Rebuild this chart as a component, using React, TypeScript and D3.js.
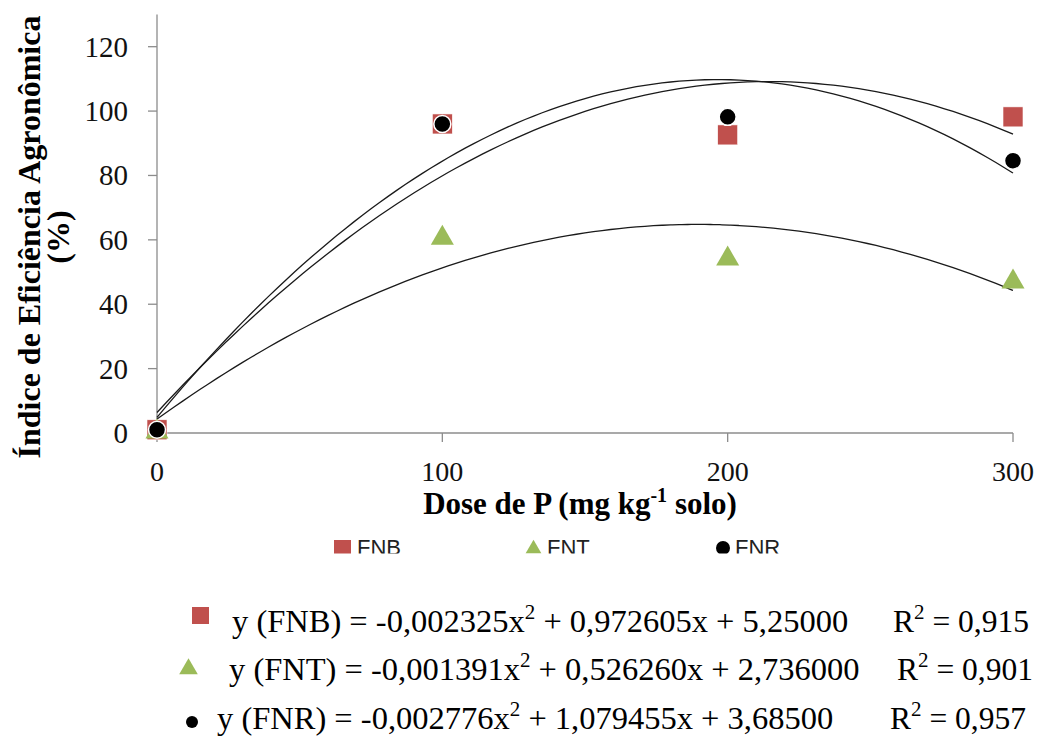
import React from "react";
import * as d3 from "d3";

// DATA
const doses = [0, 100, 200, 300];
const fnb = [1, 96, 92.6, 98.2];
const fnt = [1, 61.2, 54.7, 47.6];
const fnr = [1, 96, 98.2, 84.6];
const yTicks = [0, 20, 40, 60, 80, 100, 120];
const xTicks = [0, 100, 200, 300];

const equations = [
  { name: "FNB", a: "-0,002325x", b: " + 0,972605x +  5,25000", r2: "0,915" },
  { name: "FNT", a: "-0,001391x", b: " + 0,526260x + 2,736000", r2: "0,901" },
  { name: "FNR", a: "-0,002776x", b: " + 1,079455x + 3,68500", r2: "0,957" },
];

const RED = "#C0504D";
const GREEN = "#9BBB59";
const AXIS = "#8C8C8C";
const SERIF = "'Liberation Serif', 'Times New Roman', serif";

// least squares quadratic (Excel style polynomial trendline)
function fitQuad(xs: number[], ys: number[]) {
  const n = xs.length;
  let s1 = 0, s2 = 0, s3 = 0, s4 = 0, sy = 0, sxy = 0, sx2y = 0;
  xs.forEach((x, i) => {
    const y = ys[i];
    s1 += x; s2 += x * x; s3 += x ** 3; s4 += x ** 4;
    sy += y; sxy += x * y; sx2y += x * x * y;
  });
  const M = [
    [n, s1, s2, sy],
    [s1, s2, s3, sxy],
    [s2, s3, s4, sx2y],
  ];
  for (let i = 0; i < 3; i++) {
    for (let k = i + 1; k < 3; k++) {
      const f = M[k][i] / M[i][i];
      for (let j = i; j < 4; j++) M[k][j] -= f * M[i][j];
    }
  }
  const c = [0, 0, 0];
  for (let i = 2; i >= 0; i--) {
    let s = M[i][3];
    for (let j = i + 1; j < 3; j++) s -= M[i][j] * c[j];
    c[i] = s / M[i][i];
  }
  return (x: number) => c[0] + c[1] * x + c[2] * x * x;
}

export default function App() {
  const x = d3.scaleLinear().domain([0, 300]).range([157, 1013]);
  const y = d3.scaleLinear().domain([0, 130]).range([433, 14.5]);

  const samples = d3.range(0, 301, 3);
  const line = d3
    .line<number>()
    .x((d) => x(d))
    .curve(d3.curveMonotoneX);

  const trend = (vals: number[]) => {
    const f = fitQuad(doses, vals);
    return line.y((d) => y(f(d)))(samples) as string;
  };

  const tri = d3.symbol().type(d3.symbolTriangle);

  return (
    <svg width={1039} height={747} style={{ position: "fixed", left: 0, top: 0 }}>
      <rect width={1039} height={747} fill="#fff" />
      <defs>
        <clipPath id="legclip">
          <rect x={0} y={520} width={1039} height={33.5} />
        </clipPath>
      </defs>

      {/* axes */}
      <line x1={x(0)} x2={x(0)} y1={y(130)} y2={y(0)} stroke={AXIS} strokeWidth={1.3} />
      <line x1={x(0)} x2={x(300)} y1={y(0)} y2={y(0)} stroke={AXIS} strokeWidth={1.3} />
      {yTicks.map((t) => (
        <g key={"y" + t}>
          <line x1={x(0) - 9} x2={x(0)} y1={y(t)} y2={y(t)} stroke={AXIS} strokeWidth={1.3} />
          <text x={128} y={y(t) + 10} textAnchor="end" fontFamily={SERIF} fontSize={29} fill="#111">
            {t}
          </text>
        </g>
      ))}
      {xTicks.map((t) => (
        <g key={"x" + t}>
          <line x1={x(t)} x2={x(t)} y1={y(0)} y2={y(0) + 9} stroke={AXIS} strokeWidth={1.3} />
          <text x={x(t)} y={481} textAnchor="middle" fontFamily={SERIF} fontSize={28} fill="#111">
            {t}
          </text>
        </g>
      ))}

      {/* titles */}
      <text x={580} y={514} textAnchor="middle" fontFamily={SERIF} fontSize={31} fontWeight="bold">
        Dose de P (mg kg<tspan dy={-12} fontSize={20}>-1</tspan>
        <tspan dy={12}> solo)</tspan>
      </text>
      <g transform="translate(40,237) rotate(-90)">
        <text x={0} y={0} textAnchor="middle" fontFamily={SERIF} fontSize={32} fontWeight="bold">
          Índice de Eficiência Agronômica
        </text>
        <text x={0} y={29} textAnchor="middle" fontFamily={SERIF} fontSize={32} fontWeight="bold">
          (%)
        </text>
      </g>

      {/* trend lines */}
      {[fnb, fnr, fnt].map((vals, i) => (
        <path key={"t" + i} d={trend(vals)} fill="none" stroke="#1a1a1a" strokeWidth={1.3} />
      ))}

      {/* points */}
      {doses.map((d, i) => (
        <rect key={"b" + i} x={x(d) - 10} y={y(fnb[i]) - 10} width={20} height={20} fill={RED} stroke="#fff" strokeWidth={0.6} />
      ))}
      {doses.map((d, i) => (
        <path
          key={"g" + i}
          d={tri.size(230)() as string}
          transform={`translate(${x(d)},${y(fnt[i]) + 2})`}
          fill={GREEN}
        />
      ))}
      {doses.map((d, i) => (
        <circle key={"r" + i} cx={x(d)} cy={y(fnr[i])} r={8.5} fill="#000" stroke="#fff" strokeWidth={1.5} />
      ))}

      {/* legend */}
      <g clipPath="url(#legclip)" fontFamily="'Liberation Sans', Arial, sans-serif" fontSize={22} fill="#222">
        <rect x={334} y={540} width={17} height={17} fill={RED} />
        <text x={357} y={555}>FNB</text>
        <path d={d3.symbol().type(d3.symbolTriangle).size(110)() as string} transform="translate(533.5,549)" fill={GREEN} />
        <text x={547} y={555}>FNT</text>
        <circle cx={723} cy={548} r={7} fill="#000" />
        <text x={735} y={555}>FNR</text>
      </g>

      {/* equations */}
      <rect x={192} y={607} width={17} height={17} fill={RED} />
      <path d={d3.symbol().type(d3.symbolTriangle).size(150)() as string} transform="translate(188.5,669)" fill={GREEN} />
      <circle cx={192} cy={722} r={6} fill="#000" />
      {equations.map((e, i) => {
        const by = [632, 680, 729][i];
        const sx = [232, 229, 217][i];
        const rx = [893, 897, 890][i];
        return (
          <g key={e.name} fontFamily={SERIF} fill="#000">
            <text x={sx} y={by} fontSize={32.5}>
              {`y (${e.name}) = ${e.a}`}
              <tspan dy={-13} fontSize={21}>2</tspan>
              <tspan dy={13}>{e.b}</tspan>
            </text>
            <text x={rx} y={by} fontSize={31.5}>
              R<tspan dy={-13} fontSize={21}>2</tspan>
              <tspan dy={13}> = {e.r2}</tspan>
            </text>
          </g>
        );
      })}
    </svg>
  );
}
